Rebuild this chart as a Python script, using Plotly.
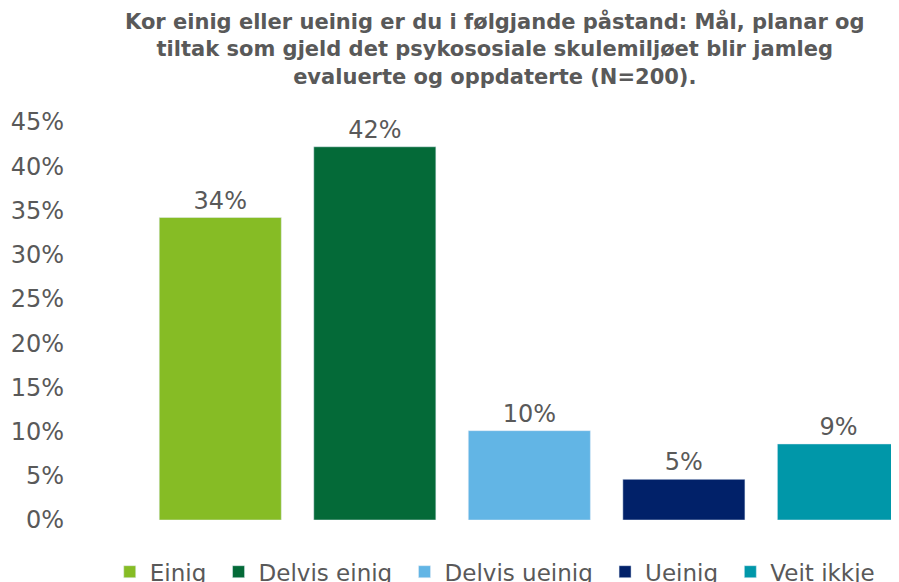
import plotly.graph_objects as go

categories = ["Einig", "Delvis einig", "Delvis ueinig", "Ueinig", "Veit ikkje"]
values = [34.2, 42.2, 10.1, 4.6, 8.6]
colors = ["#86BC25", "#046A38", "#62B5E5", "#012169", "#0097A9"]
tick_vals = [0, 5, 10, 15, 20, 25, 30, 35, 40, 45]
tick_text = [f"{v}%" for v in tick_vals]

title = ("<b>Kor einig eller ueinig er du i følgjande påstand: Mål, planar og<br>"
         "tiltak som gjeld det psykososiale skulemiljøet blir jamleg<br>"
         "evaluerte og oppdaterte (N=200).</b>")

grey = "#595959"
font = "DejaVu Sans"
NB = "\u00a0"

fig = go.Figure()
for c, v, col in zip(categories, values, colors):
    fig.add_trace(go.Bar(
        x=[c], y=[v], name=c + NB, marker_color=col,
        text=[f"{v:.0f}%"], textposition="outside",
        textfont=dict(family=font, size=24, color=grey),
        cliponaxis=False,
    ))

fig.add_annotation(
    text=title, xref="paper", yref="paper", x=0.4656, y=1.288,
    xanchor="center", yanchor="top", showarrow=False, align="center",
    font=dict(family=font, size=21, color=grey),
)

fig.update_layout(
    width=891, height=574,
    margin=dict(l=135, r=0, t=114, b=62, autoexpand=False),
    paper_bgcolor="white", plot_bgcolor="white",
    font=dict(family=font, color=grey),
    bargap=0.21,
    showlegend=True,
    legend=dict(orientation="h", x=-0.044, xanchor="left", y=-0.076, yanchor="top",
                font=dict(family=font, size=23, color=grey), traceorder="normal",
                itemwidth=30),
    xaxis=dict(categoryorder="array", categoryarray=categories,
               range=[-0.5, 4.392], showticklabels=False, showline=False,
               showgrid=False, zeroline=False, ticks=""),
    yaxis=dict(range=[0, 45], tickvals=tick_vals, ticktext=tick_text,
               showgrid=False, zeroline=False, showline=False, ticks="",
               tickfont=dict(family=font, size=24, color=grey),
               ticklabelstandoff=78),
)

fig.write_html("out.html")
